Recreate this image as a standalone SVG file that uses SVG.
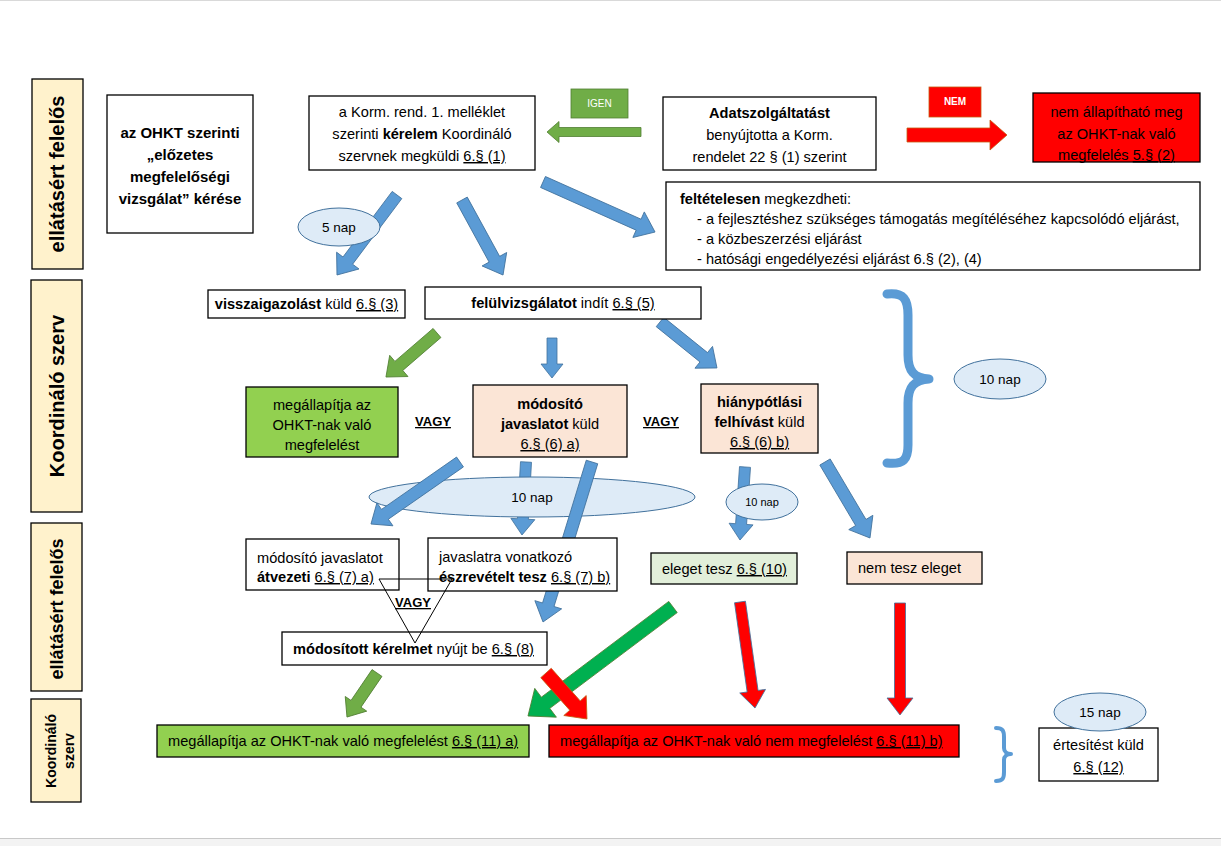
<svg xmlns="http://www.w3.org/2000/svg" width="1221" height="846" viewBox="0 0 1221 846">
<style>
text{font-family:"Liberation Sans",Arial,sans-serif;font-size:14.6px;fill:#000}
.c{text-anchor:middle}
.b{font-weight:bold}
.u{text-decoration:underline}
.lab{fill:#FFF2CC;stroke:#000;stroke-width:1.3}
.box{fill:#fff;stroke:#000;stroke-width:1.3}
.grn{fill:#92D050;stroke:#000;stroke-width:1.3}
.pch{fill:#FBE5D6;stroke:#000;stroke-width:1.3}
.lgr{fill:#E2EFDA;stroke:#000;stroke-width:1.3}
.red{fill:#FF0000;stroke:#000;stroke-width:1.3}
.ell{fill:#DEEBF7;stroke:#41719C;stroke-width:1}
.ba{fill:#5B9BD5;stroke:#41719C;stroke-width:0.8}
.ga{fill:#70AD47;stroke:#507E32;stroke-width:0.8}
.gg{fill:#00B050;stroke:#507E32;stroke-width:0.8}
.ra{fill:#FF0000;stroke:#41719C;stroke-width:0.8}
.rb{fill:#FF0000;stroke:#C55A11;stroke-width:0.8}
.brace{fill:none;stroke:#5B9BD5;stroke-linecap:round;stroke-linejoin:round}
.vl{font-size:20px;font-weight:bold}
.sm{font-size:13.5px}
</style>
<rect x="0" y="0" width="1221" height="846" fill="#fff"/>
<line x1="0" y1="0.5" x2="1221" y2="0.5" stroke="#D9D9D9"/>
<rect x="0" y="838" width="1221" height="8" fill="#F3F3F3"/>
<line x1="0" y1="838.5" x2="1221" y2="838.5" stroke="#C8C8C8"/>

<!-- lane labels -->
<g id="lane1"><rect class="lab" x="32" y="79" width="51" height="190"/><text class="c vl" transform="translate(64,174) rotate(-90)">ellátásért felelős</text></g>
<g id="lane2"><rect class="lab" x="31" y="280" width="51" height="232"/><text class="c vl" transform="translate(64,396) rotate(-90)">Koordináló szerv</text></g>
<g id="lane3"><rect class="lab" x="31" y="523" width="51" height="168"/><text class="c b" style="font-size:18px" transform="translate(63,609) rotate(-90)">ellátásért felelős</text></g>
<g id="lane4"><rect class="lab" x="31" y="699" width="50" height="103"/><text class="c b" style="font-size:14px" transform="translate(56,751) rotate(-90)">Koordináló</text><text class="c b" style="font-size:14px" transform="translate(74,751) rotate(-90)">szerv</text></g>

<!-- connectors beneath the duration ellipses -->
<g id="connectors-under">
<polygon class="ba" transform="translate(397,195) rotate(126.87)" points="0,-6 82,-6 82,-14 100,0 82,14 82,6 0,6"/>
<polygon class="ba" transform="translate(526,462) rotate(93.14)" points="0,-5.5 57.1,-5.5 57.1,-12 73.1,0 57.1,12 57.1,5.5 0,5.5"/>
<polygon class="ba" transform="translate(745,467) rotate(93.92)" points="0,-5.5 57.2,-5.5 57.2,-12 73.2,0 57.2,12 57.2,5.5 0,5.5"/>
</g>

<g id="n-5nap"><ellipse class="ell" cx="339" cy="227" rx="41" ry="19"/><text class="c sm" x="339" y="232">5 nap</text></g>
<g id="n-10nap-big"><ellipse class="ell" cx="532" cy="497" rx="163" ry="20"/><text class="c sm" x="532" y="502">10 nap</text></g>
<g id="n-10nap-small"><ellipse class="ell" cx="762" cy="502" rx="36" ry="18"/><text class="c" x="762" y="506" style="font-size:11px">10 nap</text></g>

<g id="connectors">
<polygon class="ga" transform="translate(641,132) rotate(180)" points="0,-4.5 82,-4.5 82,-10.5 94,0 82,10.5 82,4.5 0,4.5"/>
<polygon class="rb" transform="translate(907,135)" points="0,-7 83,-7 83,-15 100,0 83,15 83,7 0,7"/>
<polygon class="ba" transform="translate(462,200) rotate(61.33)" points="0,-6 67.5,-6 67.5,-14 85.5,0 67.5,14 67.5,6 0,6"/>
<polygon class="ba" transform="translate(543,182) rotate(24.06)" points="0,-6 104.7,-6 104.7,-14 122.7,0 104.7,14 104.7,6 0,6"/>
<polygon class="ga" transform="translate(437,333) rotate(139.22)" points="0,-6 50.4,-6 50.4,-14 67.4,0 50.4,14 50.4,6 0,6"/>
<polygon class="ba" transform="translate(552,338) rotate(90)" points="0,-5 26,-5 26,-11 40,0 26,11 26,5 0,5"/>
<polygon class="ba" transform="translate(660,322) rotate(38.9)" points="0,-6 56.2,-6 56.2,-14 73.2,0 56.2,14 56.2,6 0,6"/>
<polygon class="ba" transform="translate(460,462) rotate(145.14)" points="0,-6 91.5,-6 91.5,-14 108.5,0 91.5,14 91.5,6 0,6"/>
<polygon class="ba" transform="translate(592,462) rotate(107.03)" points="0,-6 149.3,-6 149.3,-14 167.3,0 149.3,14 149.3,6 0,6"/>
<polygon class="ba" transform="translate(825,462) rotate(59.37)" points="0,-6 70.3,-6 70.3,-14 88.3,0 70.3,14 70.3,6 0,6"/>
<polygon class="ga" transform="translate(377,673) rotate(124.29)" points="0,-6 37.3,-6 37.3,-13 53.3,0 37.3,13 37.3,6 0,6"/>
<polygon class="gg" transform="translate(673,607) rotate(143.07)" points="0,-7 159.4,-7 159.4,-18 181.4,0 159.4,18 159.4,7 0,7"/>
<polygon class="rb" transform="translate(546,673) rotate(48.29)" points="0,-7 43.6,-7 43.6,-15 61.6,0 43.6,15 43.6,7 0,7"/>
<polygon class="ra" transform="translate(740,602) rotate(81.95)" points="0,-5.5 90.1,-5.5 90.1,-13 107.1,0 90.1,13 90.1,5.5 0,5.5"/>
<polygon class="ra" transform="translate(900,603) rotate(90)" points="0,-5.5 95,-5.5 95,-13 112,0 95,13 95,5.5 0,5.5"/>
</g>

<!-- nodes -->
<g id="n-request"><rect class="box" x="107" y="95" width="146" height="138"/>
<text class="c b" x="180" y="138" style="font-size:15px">az OHKT szerinti</text>
<text class="c b" x="180" y="160" style="font-size:15px">„előzetes</text>
<text class="c b" x="180" y="182" style="font-size:15px">megfelelőségi</text>
<text class="c b" x="180" y="204" style="font-size:15px">vizsgálat” kérése</text></g>

<g id="n-kerelem"><rect class="box" x="309" y="96" width="226" height="74"/>
<text class="c" x="422" y="117">a Korm. rend. 1. melléklet</text>
<text class="c" x="422" y="139">szerinti <tspan class="b">kérelem</tspan> Koordináló</text>
<text class="c" x="422" y="161">szervnek megküldi <tspan class="u">6.§ (1)</tspan></text></g>

<g id="n-igen"><rect x="571" y="89" width="57" height="29" fill="#70AD47" stroke="#507E32" stroke-width="0.8"/><text class="c" x="599.5" y="107" style="font-size:10px;fill:#fff">IGEN</text></g>

<g id="n-adat"><rect class="box" x="663" y="97" width="213" height="73"/>
<text class="c b" x="769.5" y="118">Adatszolgáltatást</text>
<text class="c" x="769.5" y="140">benyújtotta a Korm.</text>
<text class="c" x="769.5" y="162">rendelet 22 § (1) szerint</text></g>

<g id="n-nem"><rect x="929" y="87" width="52" height="30" fill="#FF0000" stroke="#C55A11" stroke-width="0.8"/><text class="c b" x="955" y="105" style="font-size:10px;fill:#fff">NEM</text></g>

<g id="n-nemall"><rect class="red" x="1033" y="93" width="167" height="69"/>
<text class="c" x="1116.5" y="117">nem állapítható meg</text>
<text class="c" x="1116.5" y="139">az OHKT-nak való</text>
<text class="c" x="1116.5" y="160">megfelelés <tspan class="u">5.§ (2)</tspan></text></g>

<g id="n-feltetelesen"><rect class="box" x="666" y="182" width="534" height="88"/>
<text x="680" y="204"><tspan class="b">feltételesen</tspan> megkezdheti:</text>
<text x="697" y="224">-  a fejlesztéshez szükséges támogatás megítéléséhez kapcsolódó eljárást,</text>
<text x="697" y="244">-  a közbeszerzési eljárást</text>
<text x="697" y="264">-  hatósági engedélyezési eljárást 6.§ (2), (4)</text></g>

<g id="n-vissza"><rect class="box" x="208" y="290" width="197" height="28"/>
<text class="c" x="306.5" y="309"><tspan class="b">visszaigazolást</tspan> küld <tspan class="u">6.§ (3)</tspan></text></g>

<g id="n-felul"><rect class="box" x="425" y="287" width="276" height="32"/>
<text class="c" x="563" y="308"><tspan class="b">felülvizsgálatot</tspan> indít <tspan class="u">6.§ (5)</tspan></text></g>

<g id="n-megall1"><rect class="grn" x="246" y="387" width="152" height="70"/>
<text class="c" x="322" y="410">megállapítja az</text>
<text class="c" x="322" y="430">OHKT-nak való</text>
<text class="c" x="322" y="450">megfelelést</text></g>

<g id="n-vagy1"><text class="c b u" x="433" y="426" style="font-size:13px">VAGY</text></g>

<g id="n-modosito"><rect class="pch" x="473" y="385" width="154" height="72"/>
<text class="c b" x="550" y="409">módosító</text>
<text class="c" x="550" y="429"><tspan class="b">javaslatot</tspan> küld</text>
<text class="c u" x="550" y="449">6.§ (6) a)</text></g>

<g id="n-vagy2"><text class="c b u" x="661" y="426" style="font-size:13px">VAGY</text></g>

<g id="n-hiany"><rect class="pch" x="701" y="384" width="117" height="69"/>
<text class="c b" x="759.5" y="407">hiánypótlási</text>
<text class="c" x="759.5" y="427"><tspan class="b">felhívást</tspan> küld</text>
<text class="c u" x="759.5" y="447">6.§ (6) b)</text></g>

<g id="n-brace1"><path class="brace" stroke-width="9" d="M887,294 C904,292 908,300 908,315 L908,355 C908,371 914,378 929,379 C914,380 908,387 908,403 L908,445 C908,459 904,465 887,463"/></g>
<g id="n-10nap-right"><ellipse class="ell" cx="1000" cy="379" rx="46" ry="20"/><text class="c sm" x="1000" y="384">10 nap</text></g>

<g id="n-atvezeti"><rect class="box" x="246" y="539" width="153" height="51"/>
<text x="257" y="563">módosító javaslatot</text>
<text x="257" y="582"><tspan class="b">átvezeti</tspan> <tspan class="u">6.§ (7) a)</tspan></text></g>

<g id="n-eszrevetel"><rect class="box" x="428" y="538" width="189" height="53"/>
<text x="439" y="562">javaslatra vonatkozó</text>
<text x="439" y="582"><tspan class="b">észrevételt tesz</tspan> <tspan class="u">6.§ (7) b)</tspan></text></g>

<g id="n-eleget"><rect class="lgr" x="651" y="553" width="146" height="31"/>
<text x="662" y="574">eleget tesz <tspan class="u">6.§ (10)</tspan></text></g>

<g id="n-nemtesz"><rect class="pch" x="847" y="552" width="135" height="32"/>
<text x="858" y="573">nem tesz eleget</text></g>

<g id="n-modositott"><rect class="box" x="282" y="632" width="265" height="33"/>
<text x="293" y="654"><tspan class="b">módosított kérelmet</tspan> nyújt be <tspan class="u">6.§ (8)</tspan></text></g>

<g id="n-vagy3"><polygon points="379,579 452,579 415,643" fill="none" stroke="#000" stroke-width="1"/>
<text class="c b u" x="413" y="607" style="font-size:13px">VAGY</text></g>

<g id="n-megfelel"><rect class="grn" x="157" y="725" width="372" height="32"/>
<text x="168" y="746">megállapítja az OHKT-nak való megfelelést <tspan class="u">6.§ (11) a)</tspan></text></g>

<g id="n-nemmegfelel"><rect class="red" x="549" y="725" width="410" height="32"/>
<text x="560" y="746">megállapítja az OHKT-nak való nem megfelelést <tspan class="u">6.§ (11) b)</tspan></text></g>

<g id="n-brace2"><path class="brace" stroke-width="4" d="M996,728 C1003,728 1004,731 1004,737 L1004,748 C1004,752 1007,754 1011,754 C1007,754 1004,756 1004,760 L1004,772 C1004,778 1003,781 996,781"/></g>

<g id="n-ertesites"><rect class="box" x="1039" y="728" width="119" height="53"/>
<text class="c" x="1098.5" y="750">értesítést küld</text>
<text class="c u" x="1098.5" y="772">6.§ (12)</text></g>

<g id="n-15nap"><ellipse class="ell" cx="1100" cy="712" rx="46" ry="19"/><text class="c sm" x="1100" y="717">15 nap</text></g>
</svg>
